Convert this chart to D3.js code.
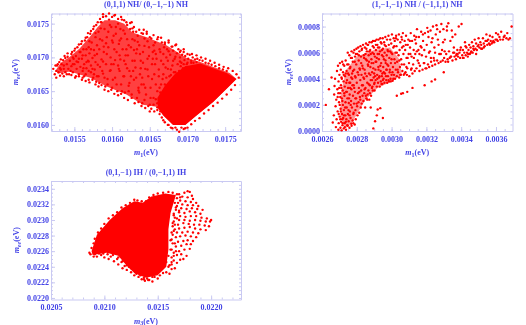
<!DOCTYPE html>
<html>
<head>
<meta charset="utf-8">
<script src="https://cdn.jsdelivr.net/npm/d3@7"></script>
<style>
body { margin: 0; background: #fff; }
svg { filter: blur(0.35px); }
text { font-family: "Liberation Serif", serif; font-weight: bold; fill: #4444e6; }
.tick text { font-size: 8px; }
.domain, .tick line { stroke: #c9c9f2; stroke-width: 1; }
.lab { font-size: 8px; }
</style>
</head>
<body>
<div id="chart"></div>
<script>
// Tick labels of each panel
var ticksAX = [0.0155, 0.016, 0.0165, 0.017, 0.0175];
var ticksAY = [0.016, 0.0165, 0.017, 0.0175];
var ticksBX = [0.0026, 0.0028, 0.003, 0.0032, 0.0034, 0.0036];
var ticksBY = [0, 0.0002, 0.0004, 0.0006, 0.0008];
var ticksCX = [0.0205, 0.021, 0.0215, 0.022];
var ticksCY = [0.022, 0.0222, 0.0224, 0.0226, 0.0228, 0.023, 0.0232, 0.0234];

// Panel A, solid parts of the cloud (units of 1e-5 eV)
var cloudA = [[1526,1682],[1532,1692],[1544,1701],[1557,1713],[1570,1730],[1581,1745],[1590,1755],[1604,1755],[1616,1750],[1627,1737],[1646,1730],[1672,1718],[1699,1699],[1717,1693],[1739,1684],[1756,1677],[1765,1668],[1756,1658],[1734,1634],[1712,1614],[1697,1600],[1681,1600],[1668,1614],[1659,1627],[1641,1630],[1619,1645],[1593,1657],[1571,1670],[1544,1679],[1528,1676]];
var coreA = [[1765,1668],[1756,1658],[1734,1634],[1712,1614],[1697,1600],[1681,1600],[1668,1614],[1661,1625],[1660,1640],[1670,1658],[1683,1675],[1697,1687],[1717,1691],[1734,1684],[1752,1677]];
// Panel A, single points
var pointsA = [[1522,1683],[1524,1675],[1526,1680],[1527,1688],[1529,1678],[1530,1693],[1531,1684],[1533,1690],[1534,1676],[1535,1696],[1536,1683],[1538,1699],[1538,1678],[1540,1690],[1541,1701],[1542,1683],[1543,1675],[1544,1695],[1546,1705],[1546,1687],[1548,1678],[1549,1698],[1550,1690],[1550,1710],[1552,1672],[1552,1702],[1553,1683],[1554,1715],[1555,1693],[1556,1675],[1557,1708],[1558,1686],[1559,1720],[1560,1698],[1561,1670],[1561,1680],[1562,1712],[1563,1690],[1564,1725],[1565,1703],[1565,1675],[1566,1684],[1567,1730],[1568,1695],[1569,1715],[1569,1667],[1570,1706],[1571,1735],[1572,1678],[1572,1688],[1573,1722],[1574,1699],[1575,1742],[1575,1670],[1576,1711],[1577,1682],[1578,1730],[1578,1693],[1579,1748],[1580,1672],[1580,1705],[1580,1718],
[1582,1738],[1583,1662],[1584,1686],[1585,1752],[1586,1697],[1587,1725],[1588,1676],[1588,1760],[1589,1708],[1590,1742],[1591,1657],[1592,1690],[1593,1730],[1594,1668],[1595,1715],[1596,1756],[1597,1680],[1598,1700],[1599,1745],[1600,1655],[1601,1722],[1602,1690],[1603,1762],[1604,1670],[1605,1735],[1606,1708],[1607,1650],[1608,1750],[1609,1683],[1610,1725],[1611,1697],[1612,1660],[1613,1756],[1614,1712],[1615,1740],[1616,1672],[1617,1648],[1618,1690],[1619,1752],[1620,1727],[1621,1703],[1622,1658],[1623,1680],[1624,1742],[1625,1715],[1626,1645],[1627,1695],[1628,1738],[1629,1667],[1630,1725],[1631,1685],[1632,1706],[1633,1640],[1634,1732],[1635,1655],[1636,1718],[1637,1675],[1638,1695],[1639,1736],[1640,1632],[1641,1708],[1642,1660],[1643,1728],[1644,1683],[1645,1645],[1646,1735],[1647,1698],[1648,1672],[1649,1715],[1650,1630],[1651,1655],[1652,1728],[1653,1690],[1654,1708],[1655,1640],[1656,1675],[1657,1722],[1658,1660],[1659,1698],[1660,1626],[1661,1730],[1662,1682],[1663,1712],[1664,1648],[1665,1695],[1666,1722],[1667,1668],[1668,1705],[1669,1635],[1670,1720],[1671,1685],[1672,1655],[1673,1712],[1674,1695],[1675,1722],[1676,1672],[1677,1704],[1678,1660],[1679,1716],[1680,1688],[1681,1710],[1682,1678],[1683,1698],[1684,1718],[1685,1668],[1686,1706],[1687,1690],[1688,1712],[1689,1680],[1690,1700],[1691,1710],[1692,1692],[1693,1704],[1694,1684],[1695,1708],[1696,1696],[1697,1702],[1699,1690],[1701,1698],[1703,1704],[1705,1692],[1707,1700],[1710,1697],[1713,1698],[1716,1696],[1720,1695],[1724,1692],[1728,1691],[1732,1689],[1737,1687],[1742,1684],[1747,1682],[1752,1680],
[1664,1620],[1668,1607],[1675,1600],[1680,1595],[1686,1593],[1692,1596],[1697,1595]];
// Panel A, points along the edges of the cloud
var edgeA = [[1525,1688],[1528,1690],[1532,1697],[1537,1702],[1541,1706],[1547,1708],[1551,1713],[1556,1719],[1560,1724],[1565,1729],[1568,1736],[1572,1739],[1576,1746],[1581,1752],[1584,1757],[1588,1764],[1592,1761],[1596,1765],[1600,1760],[1604,1763],[1608,1757],[1612,1760],[1616,1755],[1620,1748],[1624,1751],[1627,1743],[1632,1738],[1636,1741],[1641,1735],[1646,1738],[1650,1730],[1655,1733],[1660,1727],[1665,1729],[1670,1722],[1675,1725],[1680,1716],[1685,1719],[1690,1708],[1695,1712],[1700,1705],[1706,1705],[1712,1703],[1718,1700],[1724,1698],[1730,1695],[1736,1692],[1742,1689],[1748,1686],[1754,1684],[1760,1680],[1765,1675],[1768,1670],
[1526,1670],[1531,1673],[1536,1672],[1540,1675],[1546,1674],[1551,1670],[1556,1672],[1560,1667],[1565,1665],[1570,1663],[1574,1667],[1578,1660],[1582,1657],[1586,1659],[1590,1652],[1595,1650],[1599,1652],[1603,1646],[1608,1644],[1612,1646],[1616,1640],[1621,1637],[1626,1640],[1630,1632],[1635,1634],[1639,1628],[1644,1625],[1648,1628],[1652,1624],[1656,1620],[1660,1622],[1663,1616],[1666,1611],[1670,1604],[1674,1600],[1678,1596],[1684,1596],[1689,1590],[1695,1594],[1700,1596],[1705,1601],[1710,1606],[1716,1610],[1722,1617],[1728,1622],[1734,1628],[1740,1633],[1746,1639],[1752,1645],[1758,1652],[1763,1659]];
// Panel A, more points inside the cloud
var innerA = [[1610,1703],[1583,1712],[1647,1682],[1569,1694],[1632,1670],[1595,1738],[1658,1705],[1576,1675],[1620,1684],[1601,1667],[1643,1717],[1588,1694],[1668,1690],[1612,1728],[1556,1698],[1629,1711],[1598,1681],[1684,1701],[1566,1712],[1636,1648],[1605,1745],[1653,1668],[1581,1689],[1622,1718],[1548,1690],[1675,1709],[1592,1721],[1641,1692],[1562,1684],[1615,1672],[1660,1650],[1578,1736],[1626,1752],[1639,1660],[1603,1712],[1590,1670],[1657,1690],[1572,1712],[1618,1703],[1536,1688],[1649,1702],[1584,1727],[1634,1723],[1608,1688],[1665,1660],[1553,1694],[1597,1748],[1628,1680],[1674,1683],[1561,1703],[1611,1742],[1644,1655],[1587,1680],[1623,1662],[1655,1718],[1570,1724],[1606,1660],[1637,1705],[1593,1705],[1681,1695],[1545,1680],[1617,1735],[1664,1708],[1579,1664],[1630,1695],[1600,1725],[1651,1640],[1574,1683],[1642,1741],[1613,1650],[1669,1715],[1585,1743],[1625,1672],[1558,1708],[1638,1684],[1604,1696],[1662,1672],[1594,1660],[1647,1724],[1566,1693],[1619,1712],[1532,1682],[1635,1651],[1589,1716],[1654,1698],[1609,1720],[1678,1674],[1577,1703],[1627,1727],[1599,1690],[1643,1637],[1563,1672],[1616,1695],[1672,1700],[1586,1752],[1633,1712],[1548,1700],[1658,1638],[1602,1732],[1622,1650],[1569,1680],[1640,1670],[1691,1687],[1610,1680],[1656,1710],[1582,1672],[1629,1745],
[1668,1640],[1672,1645],[1675,1660],[1680,1665],[1684,1678],[1688,1672],[1692,1680],[1695,1690],[1698,1685],[1700,1692],[1705,1695],[1664,1642],[1660,1632],[1670,1660],[1682,1670],[1686,1660],[1678,1682],[1672,1670],[1668,1675],[1663,1655],[1690,1694],[1694,1672],[1708,1692],[1712,1693],[1655,1630],[1650,1620]];

// Panel B, dense core and single points (units of 1e-6 eV)
var coreB = [[2710,300],[2740,470],[2800,570],[2900,620],[2990,640],[3040,560],[3060,430],[3000,380],[2920,330],[2850,240],[2810,150],[2770,60],[2735,20],[2705,120]];
var pointsB = [[2622,200],[2640,320],[2655,410],[2662,65],[2668,120],[2670,280],[2672,345],[2675,400],[2678,190],[2680,30],[2682,240],[2684,90],[2686,460],[2688,320],[2690,150],[2692,500],[2694,10],[2695,380],[2696,60],[2698,220],[2700,430],[2702,110],[2703,520],[2704,290],[2706,25],[2707,170],[2708,470],[2709,350],[2710,70],[2712,410],[2713,5],[2714,250],[2715,130],[2716,530],[2718,45],[2719,310],[2720,200],[2721,450],[2722,100],[2724,380],[2725,20],[2726,160],[2728,500],[2729,270],[2730,60],[2731,340],[2732,420],[2734,120],[2735,220],[2736,540],[2738,10],[2739,300],[2740,90],[2741,460],[2742,180],[2744,390],[2745,45],[2746,250],[2748,600],[2749,130],[2750,330],[2752,510],[2753,75],[2754,215],[2755,430],[2757,580],[2758,25],[2759,280],[2760,150],[2762,370],[2763,490],[2764,100],[2766,560],[2767,230],[2768,55],[2769,320],[2770,610],[2772,180],[2773,440],[2774,400],[2776,80],[2777,530],[2778,270],[2780,130],[2781,600],[2782,350],[2784,210],[2785,470],[2786,620],[2788,50],[2789,300],[2790,570],[2792,160],[2793,410],[2794,90],[2796,250],[2797,510],[2798,630],[2800,370],[2802,190],[2803,590],[2804,120],[2805,450],[2807,290],[2808,640],[2810,220],[2811,540],[2812,330],[2814,140],[2815,610],[2816,480],[2818,260],[2820,390],[2821,650],[2823,180],[2824,570],[2825,310],[2827,430],[2828,210],[2830,630],[2832,500],[2833,270],[2835,350],[2836,660],[2838,230],[2840,580],[2842,400],[2843,290],[2845,470],[2846,640],[2848,180],[2850,330],[2852,550],[2853,670],[2855,250],[2857,420],[2858,610],[2860,370],[2862,280],[2864,510],[2865,660],[2867,310],[2868,580],[2870,440],[2872,240],[2873,680],[2875,350],[2877,620],[2878,490],[2880,390],[2882,270],[2884,550],[2885,680],[2887,330],[2888,450],[2890,600],[2892,310],[2893,690],[2895,520],[2897,410],[2898,640],[2900,360],[2902,310],[2904,570],[2905,690],[2907,470],[2908,390],[2910,620],[2912,530],[2914,700],[2915,340],[2917,430],[2918,660],[2920,590],[2922,370],[2924,490],[2925,700],[2927,550],[2928,410],[2930,640],[2932,340],[2934,610],[2935,710],[2937,460],[2938,380],[2940,520],[2942,670],[2944,420],[2945,580],[2947,360],[2949,710],[2950,630],[2952,490],[2954,400],[2956,550],[2957,680],[2959,370],[2960,600],[2962,440],[2964,720],[2966,520],[2967,650],[2969,390],[2970,470],[2972,580],[2974,700],[2975,370],[2977,620],[2979,420],[2981,500],[2982,730],[2984,660],[2986,380],[2987,560],[2989,450],[2991,610],[2992,700],[2994,400],[2996,520],[2998,670],[3000,430],[3002,740],[3004,590],[3006,385],[3008,490],[3010,640],[3012,710],[3014,430],[3016,550],[3018,690],[3020,400],[3022,600],[3024,470],[3026,730],[3028,650],[3030,420],[3032,530],[3035,700],[3037,450],[3040,580],[3042,740],[3044,410],[3046,620],[3048,490],[3050,680],[3053,430],[3055,550],[3057,720],[3060,640],[3062,460],[3065,750],[3068,590],[3070,430],[3072,510],[3075,690],[3078,620],[3080,450],[3083,730],[3086,560],[3088,430],[3090,480],[3093,660],[3096,700],[3098,590],[3100,520],[3102,420],[3106,640],[3110,750],[3112,470],[3115,570],[3118,690],[3120,440],[3124,510],[3127,620],[3130,730],[3133,460],[3136,590],[3140,670],[3143,480],[3146,780],[3150,540],[3154,620],[3157,720],[3160,460],[3163,500],[3167,650],[3170,760],[3174,580],[3178,470],[3181,690],[3185,520],[3188,620],[3192,750],[3195,480],[3198,570],[3202,660],[3205,790],[3209,510],[3212,720],[3216,490],[3220,610],[3224,770],[3227,530],[3230,680],[3234,500],[3238,800],[3242,560],[3246,640],[3250,510],[3254,740],[3258,810],[3262,540],[3266,700],[3270,520],[3274,590],[3278,760],[3282,530],[3286,820],[3290,620],[3294,540],[3298,780],[3302,560],[3306,700],[3310,530],[3314,590],[3318,770],[3322,550],[3326,825],[3330,610],[3334,560],[3338,690],[3342,570],[3346,770],[3350,540],[3354,600],[3358,640],[3362,570],[3366,740],[3370,550],[3374,590],[3378,620],[3382,570],[3386,800],[3390,600],[3394,560],[3398,640],[3402,820],[3406,580],[3410,620],[3414,560],[3418,600],[3422,680],[3426,580],[3430,640],[3434,600],[3438,570],[3442,620],[3446,660],[3450,590],[3454,640],[3458,610],[3462,680],[3466,600],[3470,650],[3474,620],[3478,700],[3482,630],[3486,670],[3490,620],[3495,650],[3500,710],[3505,640],[3510,680],[3515,660],[3520,630],[3525,710],[3530,670],[3535,650],[3540,690],[3545,740],[3550,660],[3555,700],[3560,670],[3565,730],[3570,690],[3575,670],[3580,720],[3585,690],[3590,680],[3600,750],[3605,700],[3610,690],[3620,720],[3630,760],[3640,700],[3650,730],[3660,710],[3672,700],[3690,800],
[2880,180],[2895,20],[2905,75],[2920,165],[2935,175],[2915,120],[2950,100],[3030,270],[3055,285],[3065,290],[3090,300],[3120,330],[3190,350],[3230,380],[3250,395],[3300,450]];
var innerB = [[2705,260],[2748,40],[2716,90],[2762,330],[2690,260],[2733,180],[2778,460],[2725,430],[2696,130],[2745,510],[2758,120],[2711,330],[2770,40],[2728,290],[2702,200],[2785,330],[2740,370],[2699,330],[2755,250],[2719,60],[2772,560],[2737,70],[2790,420],[2708,150],[2765,200],[2722,510],[2792,250],[2750,440],[2714,400],[2782,140],[2731,30],[2760,480],[2743,300],[2694,290],[2775,350],[2727,120],[2788,530],[2752,160],[2717,230],[2768,410],[2799,210],[2736,440],[2780,60],[2757,370],[2705,90],[2795,590],
[2810,430],[2835,480],[2860,240],[2888,390],[2915,560],[2845,320],[2872,610],[2900,440],[2825,520],[2852,270],[2880,590],[2930,420],[2815,300],[2842,560],[2868,360],[2895,480],[2922,640],[2950,390],[2838,410],[2865,500],[2892,650],[2820,240],[2855,630],[2908,530],[2935,500],[2960,660],[2875,290],[2848,440],[2902,370],[2928,590],[2955,450],[2982,390],[2812,580],[2885,520],[2918,400],[2945,620],[2972,470],[2998,600],[2830,350],[2858,540],[2890,340],[2942,360],[2965,540],[2990,470],[3015,650],[2828,620],[2878,430],[2910,660],[2938,680],[2968,420],[2995,380],[3020,520],[2850,590],[2905,420],[2952,570],[2980,610],[3005,450],[3030,600],[2862,660],[2925,470],[2975,510],[3010,400],[3035,470],[2818,470],[2870,530],[2898,590],[2947,440],[3000,550],[3045,540],[3060,700],[3075,440],[3092,560],[3105,690],[3050,430],[3068,650],[3085,490],[3108,590],[3025,710],[3058,510],[3082,660],[3115,480],[3128,560],[3142,720],[3156,520],[3172,640],[3135,700],[3160,590],[3180,740],[3200,480],[3215,600],[3235,710],[3250,600],[3270,660],[3145,610],[3188,520],[3210,760],[3226,560],[3245,540],[3262,780],[3283,590],[3305,610],[3325,530],[3350,720],[3372,580],[3296,680],[3318,800],[3340,570],[3360,600],[3380,590],[3395,620],[3410,560],[3425,650],[3440,590],[3455,600],[3470,630],[3486,590],[3500,660],[3515,630],[3530,640],[3548,690],[3565,660],[3582,680],[3598,700],[3612,740],[3625,700],[3645,720],[3665,750],[3680,710]];

// Panel C, solid part and single points (units of 1e-5 eV)
var coreC = [[2088,2260],[2093,2281],[2105,2300],[2117,2315],[2128,2324],[2136,2322],[2144,2330],[2157,2334],[2167,2332],[2162,2309],[2160,2288],[2160,2262],[2158,2240],[2150,2229],[2139,2226],[2128,2232],[2120,2243],[2113,2254],[2102,2258],[2089,2255]];
var pointsC = [[2091,2256],[2093,2253],[2097,2255],[2100,2252],[2104,2250],[2106,2253],[2109,2247],[2112,2250],[2113,2243],[2116,2246],[2117,2238],[2119,2241],[2121,2236],[2123,2240],[2125,2233],[2127,2236],[2128,2229],[2130,2231],[2132,2227],[2134,2229],[2135,2224],[2137,2226],[2138,2222],[2140,2225],[2142,2223],[2145,2221],[2147,2227],[2150,2225],[2152,2229],[2155,2232],[2158,2233],[2161,2231],[2163,2237],[2166,2238],[2160,2240],[2163,2243],[2168,2245],[2165,2248],[2171,2249],[2174,2250],[2163,2252],[2168,2255],[2172,2256],[2177,2254],[2165,2258],[2170,2260],[2175,2262],[2180,2263],[2163,2262],[2167,2266],[2172,2267],[2177,2269],[2181,2269],[2164,2270],[2169,2272],[2174,2273],[2178,2274],[2183,2273],[2163,2275],[2167,2278],[2171,2279],[2176,2280],[2181,2279],[2186,2278],[2164,2281],[2168,2284],[2173,2284],[2178,2285],[2183,2284],[2188,2283],[2166,2288],[2170,2289],[2175,2290],[2180,2291],[2185,2289],[2190,2288],[2195,2287],[2164,2292],[2169,2294],[2174,2296],[2179,2295],[2184,2294],[2189,2294],[2194,2293],[2198,2292],[2165,2298],[2170,2300],[2175,2300],[2180,2299],[2185,2300],[2190,2299],[2195,2298],[2199,2298],[2196,2302],[2200,2300],[2166,2303],[2171,2305],[2176,2304],[2181,2305],[2186,2305],[2191,2303],[2165,2308],[2170,2310],[2175,2309],[2180,2311],[2185,2310],[2190,2308],[2167,2313],[2172,2315],[2177,2314],[2182,2315],[2187,2314],[2192,2313],[2168,2318],[2173,2320],[2178,2319],[2183,2319],[2188,2318],[2166,2322],[2171,2325],[2176,2324],[2181,2323],[2186,2322],[2168,2328],[2173,2330],[2178,2329],[2183,2327],[2170,2333],[2175,2335],[2178,2337],[2180,2336],[2182,2331]];
var edgeC = [[2086,2258],[2088,2264],[2090,2270],[2091,2276],[2094,2284],[2097,2289],[2100,2295],[2104,2302],[2108,2306],[2112,2310],[2116,2316],[2120,2319],[2124,2322],[2128,2326],[2131,2325],[2135,2324],[2139,2324],[2142,2329],[2146,2332],[2150,2334],[2155,2335],[2160,2336],[2164,2335],[2168,2333],[2171,2329],[2169,2322],[2167,2316],[2165,2306],[2164,2296],[2163,2284],[2162,2274],[2162,2262],[2160,2254],[2158,2246],[2155,2240],[2152,2236],[2149,2232],[2145,2227],[2141,2223],[2137,2224],[2133,2230],[2129,2233],[2125,2238],[2121,2242],[2117,2247],[2113,2252],[2108,2255],[2103,2256],[2099,2257],[2095,2257],[2090,2253],[2087,2256],[2166,2270],[2167,2260],[2165,2286],[2166,2294],[2168,2302],[2170,2312],[2163,2246],[2161,2242],[2165,2254]];

var panels = [
	{ cloud: cloudA, cloudColor: "#ff4040", core: coreA, points: pointsA.concat(edgeA, innerA), unit: 1e-5, tx: ticksAX, ty: ticksAY,
		xd: [0.01519, 0.01771], yd: [0.01591, 0.01765], box: [51, 13.5, 241, 131], xt: 27, yt: 20,
		title: "(0,1,1) NH/ (0,\u22121,\u22121) NH", sub: "1", ylx: 18 },
	{ cloud: coreB, cloudColor: "#ff9494", core: null, points: pointsB.concat(innerB), unit: 1e-6, tx: ticksBX, ty: ticksBY,
		xd: [0.0026, 0.003695], yd: [0, 0.0009], box: [322, 13.5, 512.5, 131], xt: 20, yt: 18,
		title: "(1,\u22121,\u22121) NH / (\u22121,1,1) NH", sub: "1", ylx: 291 },
	{ cloud: coreC, cloudColor: "#ff0000", core: null, points: pointsC.concat(edgeC), unit: 1e-5, tx: ticksCX, ty: ticksCY,
		xd: [0.0205, 0.02228], yd: [0.02198, 0.0235], box: [51, 181, 241, 299.5], xt: 18, yt: 31,
		title: "(0,1,\u22121) IH / (0,\u22121,1) IH", sub: "3", ylx: 19 }
];

// Add an SVG element
var svg = d3.select("#chart")
	.append("svg")
	.attr("width", 526)
	.attr("height", 325);

panels.forEach(function (p) {
	var l = p.box[0], t = p.box[1], r = p.box[2], b = p.box[3];

	// Set ranges
	var x = d3.scaleLinear().domain(p.xd).range([l, r]);
	var y = d3.scaleLinear().domain(p.yd).range([b, t]);

	var line = d3.line()
		.x(function (d) { return x(d[0] * p.unit); })
		.y(function (d) { return y(d[1] * p.unit); })
		.curve(d3.curveLinearClosed);

	// Frame and ticks
	var fmt = d3.format(".4f");
	svg.append("g").attr("transform", "translate(0," + b + ")")
		.call(d3.axisBottom(x).ticks(p.xt).tickFormat("").tickSizeInner(-2).tickSizeOuter(0));
	svg.append("g").attr("transform", "translate(0," + t + ")")
		.call(d3.axisTop(x).ticks(p.xt).tickFormat("").tickSizeInner(-2).tickSizeOuter(0));
	svg.append("g").attr("transform", "translate(" + l + ",0)")
		.call(d3.axisLeft(y).ticks(p.yt).tickFormat("").tickSizeInner(-2).tickSizeOuter(0));
	svg.append("g").attr("transform", "translate(" + r + ",0)")
		.call(d3.axisRight(y).ticks(p.yt).tickFormat("").tickSizeInner(-2).tickSizeOuter(0));

	svg.append("g").attr("transform", "translate(0," + b + ")")
		.call(d3.axisBottom(x).tickValues(p.tx).tickFormat(fmt).tickSizeInner(-4).tickSizeOuter(0).tickPadding(5))
		.select(".domain").remove();
	svg.append("g").attr("transform", "translate(" + l + ",0)")
		.call(d3.axisLeft(y).tickValues(p.ty).tickFormat(fmt).tickSizeInner(-4).tickSizeOuter(0).tickPadding(2))
		.select(".domain").remove();

	// Add the clouds
	svg.append("path").attr("d", line(p.cloud)).attr("fill", p.cloudColor);
	if (p.core) svg.append("path").attr("d", line(p.core)).attr("fill", "#ff0000");

	// Add the dots
	svg.append("g").selectAll("circle")
		.data(p.points)
		.enter()
		.append("circle")
		.attr("r", 1.2)
		.attr("cx", function (d) { return x(d[0] * p.unit); })
		.attr("cy", function (d) { return y(d[1] * p.unit); })
		.attr("fill", "#ff0000");

	// Title and axis labels
	svg.append("text").attr("class", "lab")
		.attr("x", (l + r) / 2).attr("y", t - 6.5)
		.attr("text-anchor", "middle")
		.text(p.title);

	var xl = svg.append("text").attr("class", "lab")
		.attr("x", (l + r) / 2).attr("y", b + 24)
		.attr("text-anchor", "middle");
	xl.append("tspan").attr("font-style", "italic").text("m");
	xl.append("tspan").attr("dy", 1.5).attr("font-size", 6).text(p.sub);
	xl.append("tspan").attr("dy", -1.5).text("(eV)");

	var yl = svg.append("text").attr("class", "lab")
		.attr("transform", "translate(" + p.ylx + "," + (t + b) / 2 + ") rotate(-90)")
		.attr("text-anchor", "middle");
	yl.append("tspan").attr("font-style", "italic").text("m");
	yl.append("tspan").attr("dy", 1.5).attr("font-size", 6).attr("font-style", "italic").text("ee");
	yl.append("tspan").attr("dy", -1.5).text("(eV)");
});
</script>
</body>
</html>
